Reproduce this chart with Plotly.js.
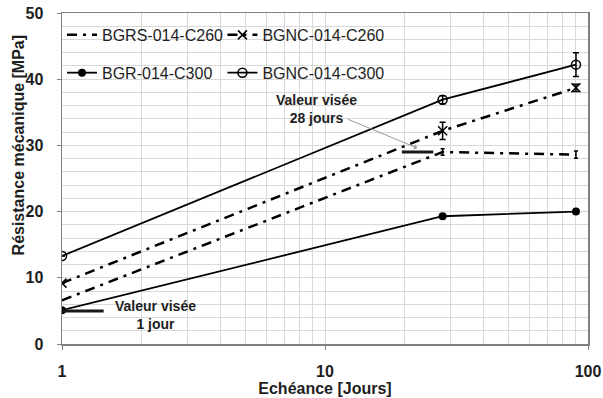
<!DOCTYPE html>
<html><head><meta charset="utf-8">
<script src="https://cdn.plot.ly/plotly-3.0.1.min.js"></script>
<style>html,body{margin:0;padding:0;background:#fff}#chart{width:603px;height:398px}</style>
</head><body><div id="chart"></div>
<script>
// Ages (days)
const days = [1, 28, 90];
// Series values (MPa)
const bgrsC260 = [6.6, 29.0, 28.6];
const bgrsC260Err = [0, 0.5, 0.55];
const bgncC260 = [9.2, 32.2, 38.7];
const bgncC260Err = [0, 1.3, 0.55];
const bgrC300 = [5.1, 19.3, 20.0];
const bgncC300 = [13.3, 36.9, 42.2];
const bgncC300Err = [0, 0.6, 1.8];
// Target values ("Valeur visée")
const target1Days = [1, 1.44];
const target1Val = [5.0, 5.0];
const target28Days = [19.6, 25.8];
const target28Val = [29, 29];
const names = ['BGRS-014-C260', 'BGNC-014-C260', 'BGR-014-C300', 'BGNC-014-C300'];
const xTickVals = [1, 10, 100];
const xTickText = ['1', '10', '100'];

const FONT = 'Liberation Sans, Arial, sans-serif';
const TXT = '#1e1e1e';
const DD = '10px,6px,3px,6px';

const traces = [
  {x: days, y: bgrsC260, name: names[0], mode: 'lines', legend: 'legend', legendgroup: 'a',
   line: {color: '#000', width: 2.5, dash: DD},
   error_y: {type: 'data', array: bgrsC260Err, visible: true, color: '#000', thickness: 1.5, width: 2}},
  {x: days, y: bgrC300, name: names[2], mode: 'lines+markers', legend: 'legend', legendgroup: 'b',
   line: {color: '#000', width: 1.8}, marker: {symbol: 'circle', size: 8, color: '#000'}},
  {x: days, y: bgncC260, name: names[1], mode: 'lines+markers', legend: 'legend2', legendgroup: 'c',
   line: {color: '#000', width: 2.5, dash: DD}, marker: {symbol: 'x-thin', size: 9, line: {color: '#000', width: 1.5}},
   error_y: {type: 'data', array: bgncC260Err, visible: true, color: '#000', thickness: 1.5, width: 3}},
  {x: days, y: bgncC300, name: names[3], mode: 'lines+markers', legend: 'legend2', legendgroup: 'd',
   line: {color: '#000', width: 1.8}, marker: {symbol: 'circle-open', size: 9, line: {color: '#000', width: 1.5}},
   error_y: {type: 'data', array: bgncC300Err, visible: true, color: '#000', thickness: 1.5, width: 3}},
  {x: target1Days, y: target1Val, mode: 'lines', showlegend: false, hoverinfo: 'skip',
   line: {color: '#1a1a1a', width: 3}},
  {x: target28Days, y: target28Val, mode: 'lines', showlegend: false, hoverinfo: 'skip',
   line: {color: '#1a1a1a', width: 3}}
];

const legendBase = {
  orientation: 'v', bgcolor: 'rgba(0,0,0,0)', borderwidth: 0,
  font: {family: FONT, size: 16, color: TXT}, itemwidth: 30, tracegroupgap: 14,
  xanchor: 'left', yanchor: 'top', traceorder: 'grouped'
};

const layout = {
  width: 603, height: 398,
  margin: {l: 62, r: 15, t: 13, b: 54},
  paper_bgcolor: '#fff', plot_bgcolor: '#fff',
  font: {family: FONT, color: TXT},
  showlegend: true,
  legend: Object.assign({}, legendBase, {x: 0.0, y: 0.985}),
  legend2: Object.assign({}, legendBase, {x: 0.305, y: 0.985}),
  xaxis: {
    type: 'log', range: [0, 2],
    tickvals: xTickVals, ticktext: xTickText,
    tickfont: {family: FONT, size: 16, color: TXT, weight: 'bold'},
    ticks: 'outside', ticklen: 4, tickcolor: '#808080', ticklabelstandoff: 8,
    showgrid: true, gridcolor: '#d9d9d9', gridwidth: 1,
    minor: {dtick: 'D1', showgrid: true, gridcolor: '#d9d9d9', gridwidth: 1, ticks: ''},
    showline: true, linecolor: '#808080', linewidth: 1.5, mirror: true, zeroline: false,
    title: {text: 'Echéance [Jours]', font: {family: FONT, size: 16, color: TXT, weight: 'bold'}, standoff: 2}
  },
  yaxis: {
    range: [0, 50], dtick: 10,
    tickfont: {family: FONT, size: 16, color: TXT, weight: 'bold'},
    ticks: 'outside', ticklen: 4, tickcolor: '#808080', ticklabelstandoff: 10,
    showgrid: true, gridcolor: '#d9d9d9', gridwidth: 1,
    minor: {dtick: 2, showgrid: true, gridcolor: '#d9d9d9', gridwidth: 1, ticks: ''},
    showline: true, linecolor: '#808080', linewidth: 1.5, mirror: true, zeroline: false
  },
  annotations: [
    {xref: 'paper', yref: 'paper', x: -0.0836, y: 0.6, xanchor: 'center', yanchor: 'middle',
     text: 'Résistance mécanique [MPa]', textangle: -90, showarrow: false,
     font: {family: FONT, size: 16, color: TXT, weight: 'bold'}},
    {xref: 'x', yref: 'y', x: Math.log10(9.3), y: 35.5, text: 'Valeur visée<br>28 jours', showarrow: false,
     align: 'center', font: {family: FONT, size: 14, color: TXT, weight: 'bold'}},
    {xref: 'x', yref: 'y', x: Math.log10(2.26), y: 4.4, text: 'Valeur visée<br>1 jour', showarrow: false,
     align: 'center', font: {family: FONT, size: 14, color: TXT, weight: 'bold'}},
    {xref: 'x', yref: 'y', x: Math.log10(22.4), y: 29.6, text: ' ', showarrow: true,
     axref: 'pixel', ayref: 'pixel', ax: -72, ay: -30, arrowhead: 1, arrowsize: 1, arrowwidth: 1, arrowcolor: '#9a9a9a',
     standoff: 0, startstandoff: 0}
  ]
};

Plotly.newPlot('chart', traces, layout, {displayModeBar: false, staticPlot: true});
</script></body></html>
